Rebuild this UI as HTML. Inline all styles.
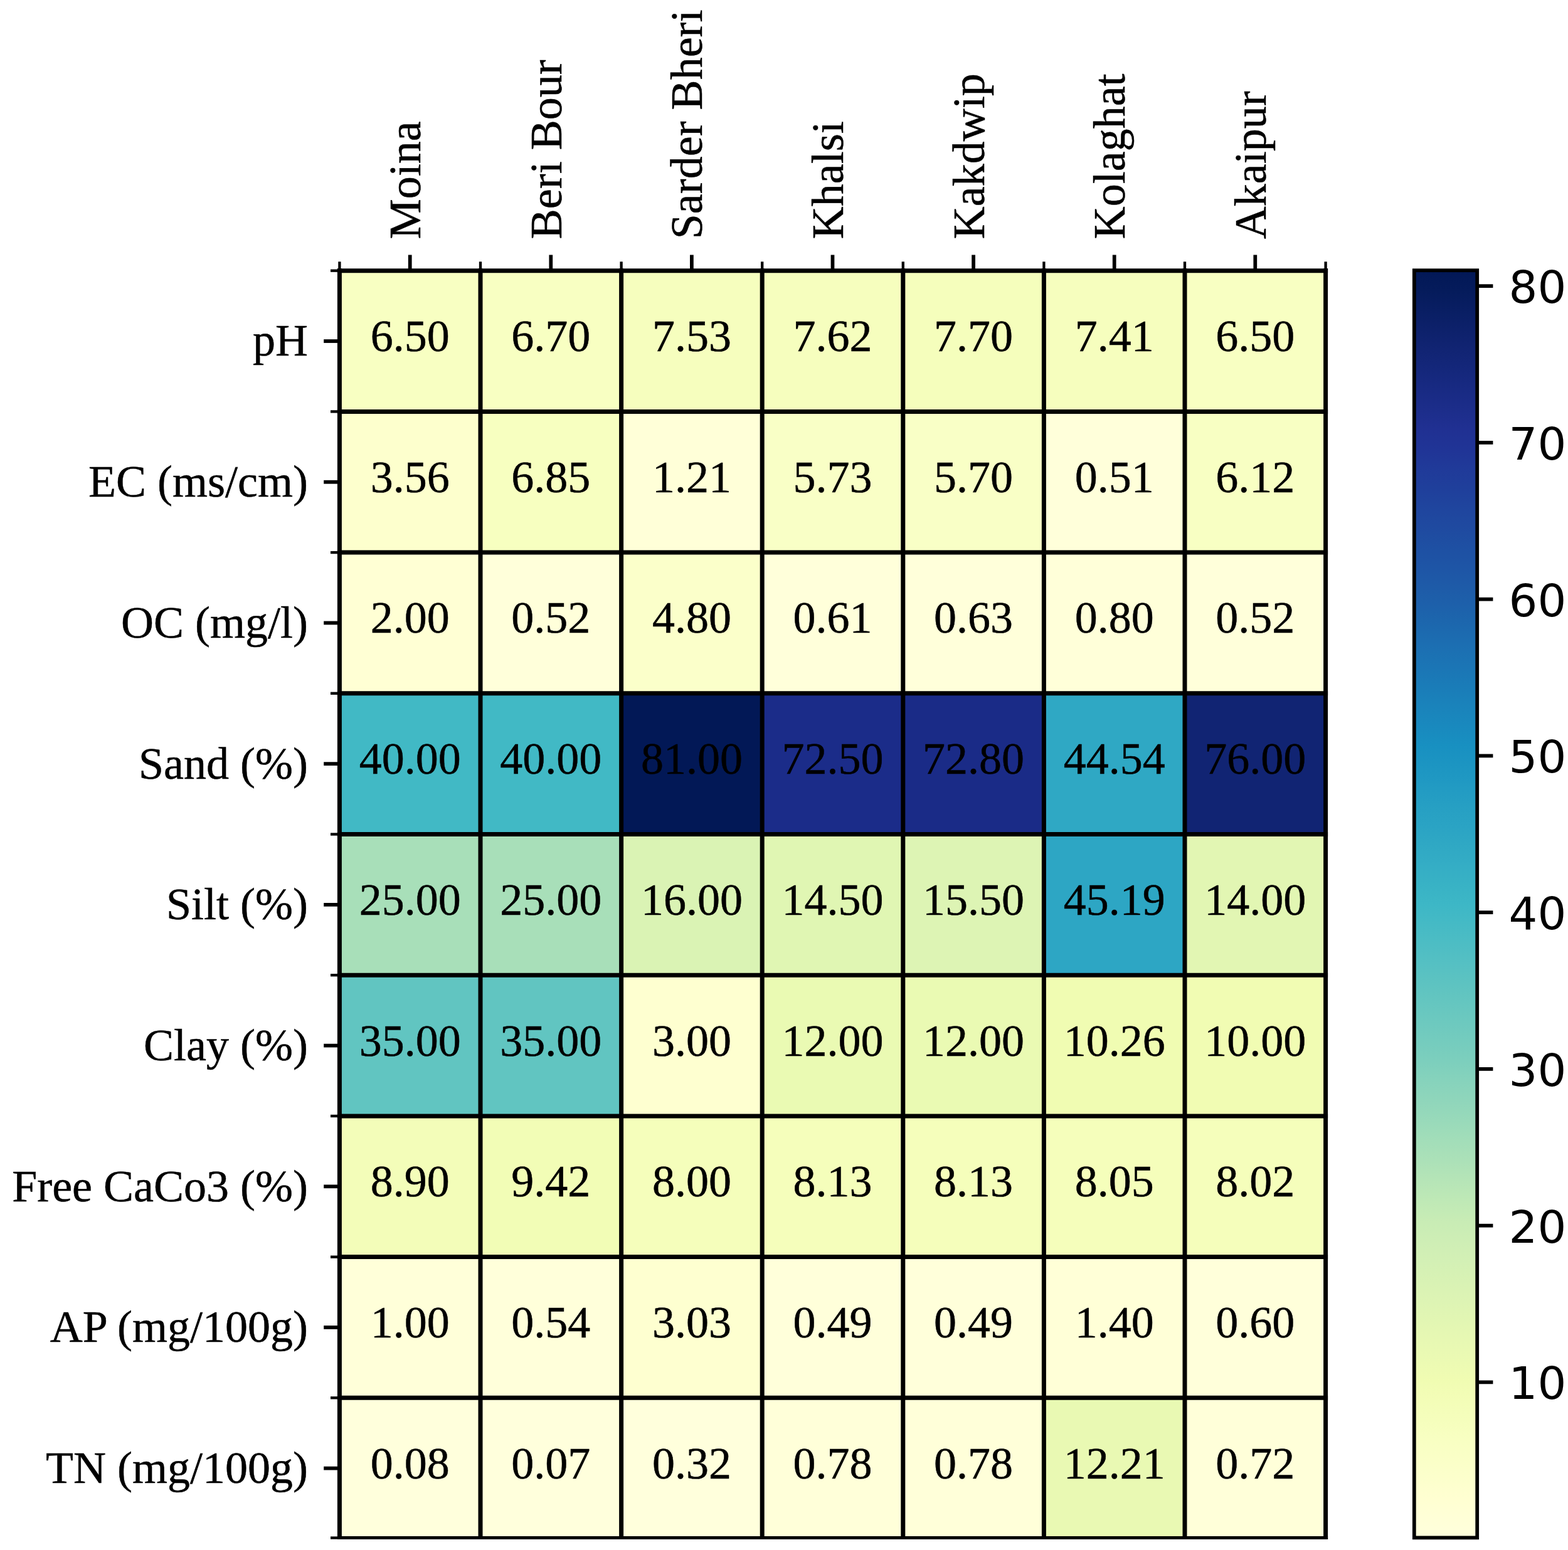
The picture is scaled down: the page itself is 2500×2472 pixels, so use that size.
<!DOCTYPE html>
<html><head><meta charset="utf-8"><title>Soil parameter heatmap</title>
<style>
html,body{margin:0;padding:0;background:#fff;}
body{width:2500px;height:2472px;overflow:hidden;}
svg{display:block;}
.t{font-family:"Liberation Serif","Times New Roman",serif;font-size:72px;fill:#000;stroke:#000;stroke-width:0.5px;}
.s{font-family:"DejaVu Sans","Liberation Sans",sans-serif;font-size:72px;fill:#000;}
</style></head><body>
<svg width="2500" height="2472" viewBox="0 0 2500 2472">
<rect x="0" y="0" width="2500" height="2472" fill="#ffffff"/>

<g shape-rendering="crispEdges">
<rect x="541.4" y="431.7" width="224.6" height="224.7" fill="#f8ffc2"/>
<rect x="766" y="431.7" width="224.6" height="224.7" fill="#f8ffc2"/>
<rect x="990.6" y="431.7" width="224.6" height="224.7" fill="#f6febe"/>
<rect x="1215.2" y="431.7" width="224.6" height="224.7" fill="#f6febe"/>
<rect x="1439.8" y="431.7" width="224.6" height="224.7" fill="#f5febc"/>
<rect x="1664.4" y="431.7" width="224.6" height="224.7" fill="#f6febe"/>
<rect x="1889" y="431.7" width="224.6" height="224.7" fill="#f8ffc2"/>
<rect x="541.4" y="656.4" width="224.6" height="224.7" fill="#fdffcd"/>
<rect x="766" y="656.4" width="224.6" height="224.7" fill="#f7ffc0"/>
<rect x="990.6" y="656.4" width="224.6" height="224.7" fill="#ffffd8"/>
<rect x="1215.2" y="656.4" width="224.6" height="224.7" fill="#f9ffc6"/>
<rect x="1439.8" y="656.4" width="224.6" height="224.7" fill="#f9ffc6"/>
<rect x="1664.4" y="656.4" width="224.6" height="224.7" fill="#ffffda"/>
<rect x="1889" y="656.4" width="224.6" height="224.7" fill="#f8ffc3"/>
<rect x="541.4" y="881.1" width="224.6" height="224.7" fill="#ffffd4"/>
<rect x="766" y="881.1" width="224.6" height="224.7" fill="#ffffda"/>
<rect x="990.6" y="881.1" width="224.6" height="224.7" fill="#fbffca"/>
<rect x="1215.2" y="881.1" width="224.6" height="224.7" fill="#ffffda"/>
<rect x="1439.8" y="881.1" width="224.6" height="224.7" fill="#ffffda"/>
<rect x="1664.4" y="881.1" width="224.6" height="224.7" fill="#ffffd9"/>
<rect x="1889" y="881.1" width="224.6" height="224.7" fill="#ffffda"/>
<rect x="541.4" y="1105.8" width="224.6" height="224.7" fill="#41b9c5"/>
<rect x="766" y="1105.8" width="224.6" height="224.7" fill="#41b9c5"/>
<rect x="990.6" y="1105.8" width="224.6" height="224.7" fill="#021856"/>
<rect x="1215.2" y="1105.8" width="224.6" height="224.7" fill="#1b2c89"/>
<rect x="1439.8" y="1105.8" width="224.6" height="224.7" fill="#1a2b87"/>
<rect x="1664.4" y="1105.8" width="224.6" height="224.7" fill="#2fa8c4"/>
<rect x="1889" y="1105.8" width="224.6" height="224.7" fill="#112473"/>
<rect x="541.4" y="1330.5" width="224.6" height="224.7" fill="#a8dfb9"/>
<rect x="766" y="1330.5" width="224.6" height="224.7" fill="#a8dfb9"/>
<rect x="990.6" y="1330.5" width="224.6" height="224.7" fill="#daf3b4"/>
<rect x="1215.2" y="1330.5" width="224.6" height="224.7" fill="#e0f6b3"/>
<rect x="1439.8" y="1330.5" width="224.6" height="224.7" fill="#ddf4b4"/>
<rect x="1664.4" y="1330.5" width="224.6" height="224.7" fill="#2da6c4"/>
<rect x="1889" y="1330.5" width="224.6" height="224.7" fill="#e2f6b3"/>
<rect x="541.4" y="1555.2" width="224.6" height="224.7" fill="#61c5c1"/>
<rect x="766" y="1555.2" width="224.6" height="224.7" fill="#61c5c1"/>
<rect x="990.6" y="1555.2" width="224.6" height="224.7" fill="#feffd0"/>
<rect x="1215.2" y="1555.2" width="224.6" height="224.7" fill="#eafab3"/>
<rect x="1439.8" y="1555.2" width="224.6" height="224.7" fill="#eafab3"/>
<rect x="1664.4" y="1555.2" width="224.6" height="224.7" fill="#f0fcb2"/>
<rect x="1889" y="1555.2" width="224.6" height="224.7" fill="#f1fcb3"/>
<rect x="541.4" y="1779.9" width="224.6" height="224.7" fill="#f3fdb9"/>
<rect x="766" y="1779.9" width="224.6" height="224.7" fill="#f2fdb6"/>
<rect x="990.6" y="1779.9" width="224.6" height="224.7" fill="#f5febb"/>
<rect x="1215.2" y="1779.9" width="224.6" height="224.7" fill="#f5febb"/>
<rect x="1439.8" y="1779.9" width="224.6" height="224.7" fill="#f5febb"/>
<rect x="1664.4" y="1779.9" width="224.6" height="224.7" fill="#f5febb"/>
<rect x="1889" y="1779.9" width="224.6" height="224.7" fill="#f5febb"/>
<rect x="541.4" y="2004.6" width="224.6" height="224.7" fill="#ffffd9"/>
<rect x="766" y="2004.6" width="224.6" height="224.7" fill="#ffffda"/>
<rect x="990.6" y="2004.6" width="224.6" height="224.7" fill="#feffd0"/>
<rect x="1215.2" y="2004.6" width="224.6" height="224.7" fill="#ffffda"/>
<rect x="1439.8" y="2004.6" width="224.6" height="224.7" fill="#ffffda"/>
<rect x="1664.4" y="2004.6" width="224.6" height="224.7" fill="#ffffd7"/>
<rect x="1889" y="2004.6" width="224.6" height="224.7" fill="#ffffda"/>
<rect x="541.4" y="2229.3" width="224.6" height="223.3" fill="#ffffdc"/>
<rect x="766" y="2229.3" width="224.6" height="223.3" fill="#ffffdc"/>
<rect x="990.6" y="2229.3" width="224.6" height="223.3" fill="#ffffdc"/>
<rect x="1215.2" y="2229.3" width="224.6" height="223.3" fill="#ffffd9"/>
<rect x="1439.8" y="2229.3" width="224.6" height="223.3" fill="#ffffd9"/>
<rect x="1664.4" y="2229.3" width="224.6" height="223.3" fill="#e9f9b3"/>
<rect x="1889" y="2229.3" width="224.6" height="223.3" fill="#ffffd9"/>
</g>
<g stroke="#000"><line x1="541.4" y1="428.2" x2="541.4" y2="2455.1" stroke-width="7.0"/><line x1="766" y1="428.2" x2="766" y2="2455.1" stroke-width="7.0"/><line x1="990.6" y1="428.2" x2="990.6" y2="2455.1" stroke-width="7.0"/><line x1="1215.2" y1="428.2" x2="1215.2" y2="2455.1" stroke-width="7.0"/><line x1="1439.8" y1="428.2" x2="1439.8" y2="2455.1" stroke-width="7.0"/><line x1="1664.4" y1="428.2" x2="1664.4" y2="2455.1" stroke-width="7.0"/><line x1="1889" y1="428.2" x2="1889" y2="2455.1" stroke-width="7.0"/><line x1="2113.6" y1="428.2" x2="2113.6" y2="2455.1" stroke-width="7.0"/><line x1="537.9" y1="431.7" x2="2117.1" y2="431.7" stroke-width="7.0"/><line x1="537.9" y1="656.4" x2="2117.1" y2="656.4" stroke-width="7.0"/><line x1="537.9" y1="881.1" x2="2117.1" y2="881.1" stroke-width="7.0"/><line x1="537.9" y1="1105.8" x2="2117.1" y2="1105.8" stroke-width="7.0"/><line x1="537.9" y1="1330.5" x2="2117.1" y2="1330.5" stroke-width="7.0"/><line x1="537.9" y1="1555.2" x2="2117.1" y2="1555.2" stroke-width="7.0"/><line x1="537.9" y1="1779.9" x2="2117.1" y2="1779.9" stroke-width="7.0"/><line x1="537.9" y1="2004.6" x2="2117.1" y2="2004.6" stroke-width="7.0"/><line x1="537.9" y1="2229.3" x2="2117.1" y2="2229.3" stroke-width="7.0"/><line x1="537.9" y1="2452.6" x2="2117.1" y2="2452.6" stroke-width="5"/></g>
<g stroke="#000"><line x1="541.4" y1="431.7" x2="541.4" y2="417.3" stroke-width="4.32"/><line x1="766" y1="431.7" x2="766" y2="417.3" stroke-width="4.32"/><line x1="990.6" y1="431.7" x2="990.6" y2="417.3" stroke-width="4.32"/><line x1="1215.2" y1="431.7" x2="1215.2" y2="417.3" stroke-width="4.32"/><line x1="1439.8" y1="431.7" x2="1439.8" y2="417.3" stroke-width="4.32"/><line x1="1664.4" y1="431.7" x2="1664.4" y2="417.3" stroke-width="4.32"/><line x1="1889" y1="431.7" x2="1889" y2="417.3" stroke-width="4.32"/><line x1="2113.6" y1="431.7" x2="2113.6" y2="417.3" stroke-width="4.32"/><line x1="653.7" y1="431.7" x2="653.7" y2="406.5" stroke-width="5.76"/><line x1="878.3" y1="431.7" x2="878.3" y2="406.5" stroke-width="5.76"/><line x1="1102.9" y1="431.7" x2="1102.9" y2="406.5" stroke-width="5.76"/><line x1="1327.5" y1="431.7" x2="1327.5" y2="406.5" stroke-width="5.76"/><line x1="1552.1" y1="431.7" x2="1552.1" y2="406.5" stroke-width="5.76"/><line x1="1776.7" y1="431.7" x2="1776.7" y2="406.5" stroke-width="5.76"/><line x1="2001.3" y1="431.7" x2="2001.3" y2="406.5" stroke-width="5.76"/><line x1="541.4" y1="431.7" x2="527" y2="431.7" stroke-width="4.32"/><line x1="541.4" y1="656.4" x2="527" y2="656.4" stroke-width="4.32"/><line x1="541.4" y1="881.1" x2="527" y2="881.1" stroke-width="4.32"/><line x1="541.4" y1="1105.8" x2="527" y2="1105.8" stroke-width="4.32"/><line x1="541.4" y1="1330.5" x2="527" y2="1330.5" stroke-width="4.32"/><line x1="541.4" y1="1555.2" x2="527" y2="1555.2" stroke-width="4.32"/><line x1="541.4" y1="1779.9" x2="527" y2="1779.9" stroke-width="4.32"/><line x1="541.4" y1="2004.6" x2="527" y2="2004.6" stroke-width="4.32"/><line x1="541.4" y1="2229.3" x2="527" y2="2229.3" stroke-width="4.32"/><line x1="541.4" y1="2452.6" x2="527" y2="2452.6" stroke-width="4.32"/><line x1="541.4" y1="544.05" x2="516.2" y2="544.05" stroke-width="5.76"/><line x1="541.4" y1="768.75" x2="516.2" y2="768.75" stroke-width="5.76"/><line x1="541.4" y1="993.45" x2="516.2" y2="993.45" stroke-width="5.76"/><line x1="541.4" y1="1218.15" x2="516.2" y2="1218.15" stroke-width="5.76"/><line x1="541.4" y1="1442.85" x2="516.2" y2="1442.85" stroke-width="5.76"/><line x1="541.4" y1="1667.55" x2="516.2" y2="1667.55" stroke-width="5.76"/><line x1="541.4" y1="1892.25" x2="516.2" y2="1892.25" stroke-width="5.76"/><line x1="541.4" y1="2116.95" x2="516.2" y2="2116.95" stroke-width="5.76"/><line x1="541.4" y1="2341.65" x2="516.2" y2="2341.65" stroke-width="5.76"/></g>
<g class="t" text-anchor="middle"><text x="653.7" y="560.05">6.50</text><text x="878.3" y="560.05">6.70</text><text x="1102.9" y="560.05">7.53</text><text x="1327.5" y="560.05">7.62</text><text x="1552.1" y="560.05">7.70</text><text x="1776.7" y="560.05">7.41</text><text x="2001.3" y="560.05">6.50</text><text x="653.7" y="784.75">3.56</text><text x="878.3" y="784.75">6.85</text><text x="1102.9" y="784.75">1.21</text><text x="1327.5" y="784.75">5.73</text><text x="1552.1" y="784.75">5.70</text><text x="1776.7" y="784.75">0.51</text><text x="2001.3" y="784.75">6.12</text><text x="653.7" y="1009.45">2.00</text><text x="878.3" y="1009.45">0.52</text><text x="1102.9" y="1009.45">4.80</text><text x="1327.5" y="1009.45">0.61</text><text x="1552.1" y="1009.45">0.63</text><text x="1776.7" y="1009.45">0.80</text><text x="2001.3" y="1009.45">0.52</text><text x="653.7" y="1234.15">40.00</text><text x="878.3" y="1234.15">40.00</text><text x="1102.9" y="1234.15">81.00</text><text x="1327.5" y="1234.15">72.50</text><text x="1552.1" y="1234.15">72.80</text><text x="1776.7" y="1234.15">44.54</text><text x="2001.3" y="1234.15">76.00</text><text x="653.7" y="1458.85">25.00</text><text x="878.3" y="1458.85">25.00</text><text x="1102.9" y="1458.85">16.00</text><text x="1327.5" y="1458.85">14.50</text><text x="1552.1" y="1458.85">15.50</text><text x="1776.7" y="1458.85">45.19</text><text x="2001.3" y="1458.85">14.00</text><text x="653.7" y="1683.55">35.00</text><text x="878.3" y="1683.55">35.00</text><text x="1102.9" y="1683.55">3.00</text><text x="1327.5" y="1683.55">12.00</text><text x="1552.1" y="1683.55">12.00</text><text x="1776.7" y="1683.55">10.26</text><text x="2001.3" y="1683.55">10.00</text><text x="653.7" y="1908.25">8.90</text><text x="878.3" y="1908.25">9.42</text><text x="1102.9" y="1908.25">8.00</text><text x="1327.5" y="1908.25">8.13</text><text x="1552.1" y="1908.25">8.13</text><text x="1776.7" y="1908.25">8.05</text><text x="2001.3" y="1908.25">8.02</text><text x="653.7" y="2132.95">1.00</text><text x="878.3" y="2132.95">0.54</text><text x="1102.9" y="2132.95">3.03</text><text x="1327.5" y="2132.95">0.49</text><text x="1552.1" y="2132.95">0.49</text><text x="1776.7" y="2132.95">1.40</text><text x="2001.3" y="2132.95">0.60</text><text x="653.7" y="2357.65">0.08</text><text x="878.3" y="2357.65">0.07</text><text x="1102.9" y="2357.65">0.32</text><text x="1327.5" y="2357.65">0.78</text><text x="1552.1" y="2357.65">0.78</text><text x="1776.7" y="2357.65">12.21</text><text x="2001.3" y="2357.65">0.72</text></g>
<g class="t" text-anchor="end"><text x="491" y="567.45">pH</text><text x="491" y="792.15">EC (ms/cm)</text><text x="491" y="1016.85">OC (mg/l)</text><text x="491" y="1241.55">Sand (%)</text><text x="491" y="1466.25">Silt (%)</text><text x="491" y="1690.95">Clay (%)</text><text x="491" y="1915.65">Free CaCo3 (%)</text><text x="491" y="2140.35">AP (mg/100g)</text><text x="491" y="2365.05">TN (mg/100g)</text></g>
<g class="t"><text transform="translate(670.2 381.3) rotate(-90)">Moina</text><text transform="translate(894.8 381.3) rotate(-90)">Beri Bour</text><text transform="translate(1119.4 381.3) rotate(-90)">Sarder Bheri</text><text transform="translate(1344 381.3) rotate(-90)">Khalsi</text><text transform="translate(1568.6 381.3) rotate(-90)">Kakdwip</text><text transform="translate(1793.2 381.3) rotate(-90)">Kolaghat</text><text transform="translate(2017.8 381.3) rotate(-90)">Akaipur</text></g>
<defs><linearGradient id="cb" x1="0" y1="0" x2="0" y2="1"><stop offset="0.0000" stop-color="#021856"/><stop offset="0.0156" stop-color="#051b5b"/><stop offset="0.0312" stop-color="#091e63"/><stop offset="0.0469" stop-color="#0d216b"/><stop offset="0.0625" stop-color="#112473"/><stop offset="0.0781" stop-color="#14277b"/><stop offset="0.0938" stop-color="#182a83"/><stop offset="0.1094" stop-color="#1c2d8a"/><stop offset="0.1250" stop-color="#203092"/><stop offset="0.1406" stop-color="#203496"/><stop offset="0.1562" stop-color="#203a99"/><stop offset="0.1719" stop-color="#1f3f9b"/><stop offset="0.1875" stop-color="#1f459e"/><stop offset="0.2031" stop-color="#1f4aa0"/><stop offset="0.2188" stop-color="#1e50a3"/><stop offset="0.2344" stop-color="#1e55a6"/><stop offset="0.2500" stop-color="#1e5ba8"/><stop offset="0.2656" stop-color="#1d61ab"/><stop offset="0.2812" stop-color="#1c68ae"/><stop offset="0.2969" stop-color="#1c6fb2"/><stop offset="0.3125" stop-color="#1b75b5"/><stop offset="0.3281" stop-color="#1a7cb8"/><stop offset="0.3438" stop-color="#1a83bb"/><stop offset="0.3594" stop-color="#1989be"/><stop offset="0.3750" stop-color="#1890c1"/><stop offset="0.3906" stop-color="#1c95c2"/><stop offset="0.4062" stop-color="#219ac3"/><stop offset="0.4219" stop-color="#269fc3"/><stop offset="0.4375" stop-color="#2aa3c4"/><stop offset="0.4531" stop-color="#2fa8c4"/><stop offset="0.4688" stop-color="#34adc5"/><stop offset="0.4844" stop-color="#38b2c5"/><stop offset="0.5000" stop-color="#3db7c6"/><stop offset="0.5156" stop-color="#45bac5"/><stop offset="0.5312" stop-color="#4dbdc4"/><stop offset="0.5469" stop-color="#55c0c3"/><stop offset="0.5625" stop-color="#5dc3c1"/><stop offset="0.5781" stop-color="#65c6c0"/><stop offset="0.5938" stop-color="#6dc9bf"/><stop offset="0.6094" stop-color="#75ccbe"/><stop offset="0.6250" stop-color="#7dcfbd"/><stop offset="0.6406" stop-color="#87d3bc"/><stop offset="0.6562" stop-color="#90d6bb"/><stop offset="0.6719" stop-color="#99daba"/><stop offset="0.6875" stop-color="#a3deb9"/><stop offset="0.7031" stop-color="#ace1b8"/><stop offset="0.7188" stop-color="#b6e5b7"/><stop offset="0.7344" stop-color="#bfe9b6"/><stop offset="0.7500" stop-color="#c8ecb5"/><stop offset="0.7656" stop-color="#ceeeb5"/><stop offset="0.7812" stop-color="#d3f0b5"/><stop offset="0.7969" stop-color="#d8f2b4"/><stop offset="0.8125" stop-color="#ddf4b4"/><stop offset="0.8281" stop-color="#e2f6b3"/><stop offset="0.8438" stop-color="#e7f8b3"/><stop offset="0.8594" stop-color="#ebfab3"/><stop offset="0.8750" stop-color="#f0fcb2"/><stop offset="0.8906" stop-color="#f3fdb7"/><stop offset="0.9062" stop-color="#f5febc"/><stop offset="0.9219" stop-color="#f8ffc2"/><stop offset="0.9375" stop-color="#faffc7"/><stop offset="0.9531" stop-color="#fcffcc"/><stop offset="0.9688" stop-color="#ffffd1"/><stop offset="0.9844" stop-color="#ffffd7"/><stop offset="1.0000" stop-color="#ffffdc"/></linearGradient></defs>
<rect x="2254.8" y="431.2" width="100.4" height="2021.2" fill="url(#cb)" stroke="#000" stroke-width="5.76"/>
<g stroke="#000"><line x1="2355.2" y1="2204.4" x2="2380.4" y2="2204.4" stroke-width="5.76"/><line x1="2355.2" y1="1954.65" x2="2380.4" y2="1954.65" stroke-width="5.76"/><line x1="2355.2" y1="1704.91" x2="2380.4" y2="1704.91" stroke-width="5.76"/><line x1="2355.2" y1="1455.16" x2="2380.4" y2="1455.16" stroke-width="5.76"/><line x1="2355.2" y1="1205.41" x2="2380.4" y2="1205.41" stroke-width="5.76"/><line x1="2355.2" y1="955.67" x2="2380.4" y2="955.67" stroke-width="5.76"/><line x1="2355.2" y1="705.92" x2="2380.4" y2="705.92" stroke-width="5.76"/><line x1="2355.2" y1="456.17" x2="2380.4" y2="456.17" stroke-width="5.76"/></g>
<g class="s"><text x="2405.6" y="2231.4">10</text><text x="2405.6" y="1981.65">20</text><text x="2405.6" y="1731.91">30</text><text x="2405.6" y="1482.16">40</text><text x="2405.6" y="1232.41">50</text><text x="2405.6" y="982.67">60</text><text x="2405.6" y="732.92">70</text><text x="2405.6" y="483.17">80</text></g>
</svg>
</body></html>
